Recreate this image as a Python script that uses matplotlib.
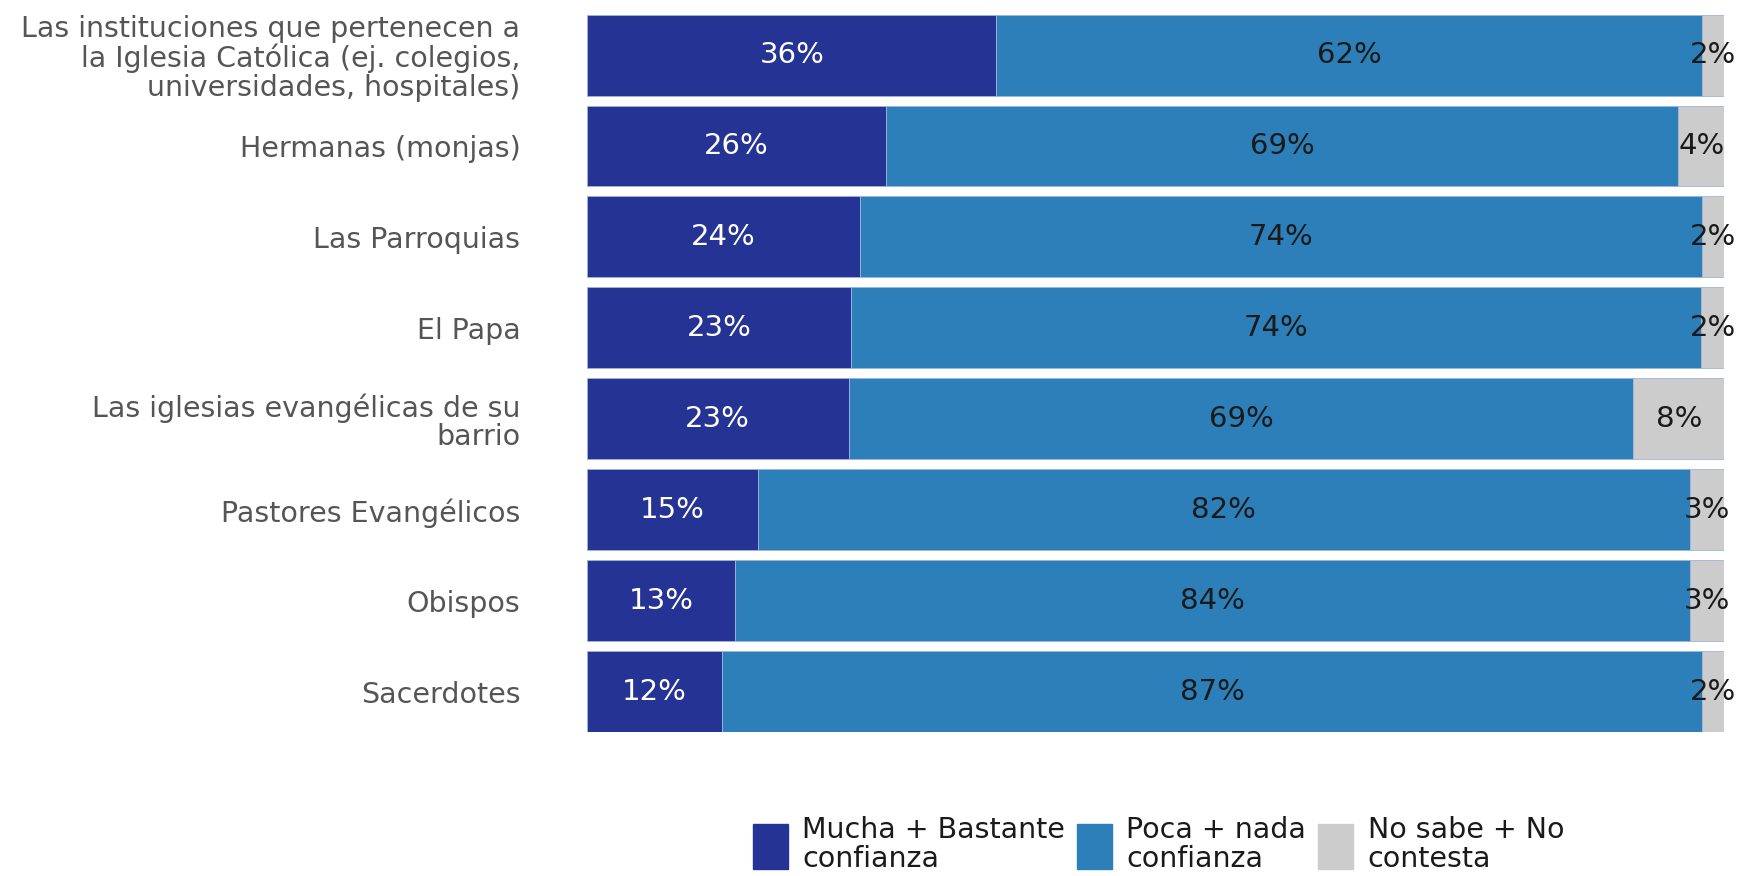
import numpy as np
import matplotlib.pyplot as plt
from matplotlib.patches import Patch

# Datos
categorias = [
    "Las instituciones que pertenecen a\nla Iglesia Católica (ej. colegios,\nuniversidades, hospitales)",
    "Hermanas (monjas)",
    "Las Parroquias",
    "El Papa",
    "Las iglesias evangélicas de su\nbarrio",
    "Pastores Evangélicos",
    "Obispos",
    "Sacerdotes",
]
mucha = [36, 26, 24, 23, 23, 15, 13, 12]
poca = [62, 69, 74, 74, 69, 82, 84, 87]
no_sabe = [2, 4, 2, 2, 8, 3, 3, 2]

series = ["Mucha + Bastante\nconfianza", "Poca + nada\nconfianza", "No sabe + No\ncontesta"]
colores = ["#253494", "#2c7fb8", "#cccccc"]
color_texto = ["white", "#1a1a1a", "#1a1a1a"]

plt.rcParams['font.family'] = ['DejaVu Sans']

valores = np.array([mucha, poca, no_sabe], dtype=float)
totales = valores.sum(axis=0)
partes = valores / totales * 100  # cada barra ocupa el 100%

fig = plt.figure(figsize=(17.47, 8.76), dpi=100)
ax = fig.add_axes([0.336, 0.164, 0.651, 0.8194])

alto = 0.89
y = np.arange(len(categorias))
izq = np.zeros(len(categorias))
for i in range(3):
    ax.barh(y, partes[i], left=izq, height=alto, color=colores[i],
            edgecolor="#9fb4d9", linewidth=0.6)
    for j in range(len(categorias)):
        ax.text(izq[j] + partes[i][j] / 2, y[j], f"{int(valores[i][j])}%",
                ha='center', va='center', fontsize=21, color=color_texto[i])
    izq += partes[i]

ax.set_xlim(0, 100)
ax.set_ylim(len(categorias) - 1 + alto / 2, -alto / 2)
ax.set_yticks(y)
ax.set_yticklabels(categorias, fontsize=20.5, color="#555555", ha='right',
                   linespacing=1.03)
ax.tick_params(axis='y', length=0, pad=48)
ax.set_xticks([])
for s in ax.spines.values():
    s.set_visible(False)

handles = [Patch(facecolor=c, edgecolor=c) for c in colores]
fig.legend(handles, series, loc='center', bbox_to_anchor=(0.663, 0.036),
           ncol=3, frameon=False, fontsize=20.5, handlelength=1.25,
           handleheight=2.05, handletextpad=0.5, columnspacing=0.4,
           labelspacing=0.2, borderpad=0.1)
for t in fig.legends[0].get_texts():
    t.set_linespacing(1.03)
    t.set_color("#1a1a1a")

plt.savefig("out.png", dpi=100)
